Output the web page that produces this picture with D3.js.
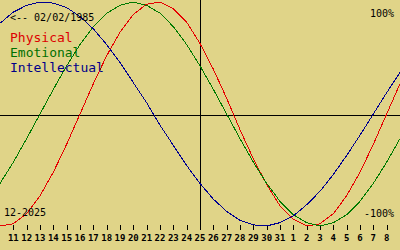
<!DOCTYPE html>
<html><head><meta charset="utf-8">
<script src="https://cdn.jsdelivr.net/npm/d3@7"></script>
<style>
html,body{margin:0;padding:0;background:#e0d488;}
svg{display:block;}
text{font-family:"DejaVu Sans Mono",monospace;}
</style></head>
<body>
<svg id="c" width="400" height="250"></svg>
<script>
// Days shown: Dec 10, 2025 .. Jan 9, 2026
const dayLabels = ["10","11","12","13","14","15","16","17","18","19","20","21","22","23","24","25","26","27","28","29","30","31","1","2","3","4","5","6","7","8","9"];
const physical = [-100,-98,-89,-73,-52,-27,0,27,52,73,89,98,100,94,82,63,40,14,-14,-40,-63,-82,-94,-100,-98,-89,-73,-52,-27,0,27];
const emotional = [-62,-43,-22,0,22,43,62,78,90,97,100,97,90,78,62,43,22,0,-22,-43,-62,-78,-90,-97,-100,-97,-90,-78,-62,-43,-22];
const intellectual = [81,91,97,100,99,95,87,76,62,46,28,10,-10,-28,-46,-62,-76,-87,-95,-99,-100,-97,-91,-81,-69,-54,-37,-19,0,19,37];
const todayIndex = 15;
const birthLabel = "<-- 02/02/1985";
const monthLabel = "12-2025";
const seriesNames = ["Physical","Emotional","Intellectual"];
const seriesColors = ["#e60000","#007a00","#000090"];
const textColors = ["#dd0000","#007000","#000088"];

const svg = d3.select("#c");
const W = 400;
const x = d3.scaleLinear().domain([0, dayLabels.length - 1]).range([0, W]);
const y = d3.scaleLinear().domain([-100, 100]).range([226, 2]);

// zero line
svg.append("line").attr("x1",0).attr("x2",W)
  .attr("y1",Math.round(y(0))+1.5).attr("y2",Math.round(y(0))+1.5)
  .attr("stroke","#000").attr("stroke-width",1).attr("shape-rendering","crispEdges");
// today line
svg.append("line").attr("x1",x(todayIndex)+0.5).attr("x2",x(todayIndex)+0.5)
  .attr("y1",0).attr("y2",230)
  .attr("stroke","#000").attr("stroke-width",1).attr("shape-rendering","crispEdges");

// ticks
const tickIdx = d3.range(1, dayLabels.length - 1);
svg.selectAll(".tk").data(tickIdx).enter().append("line")
  .attr("x1",d=>Math.round(x(d))+0.5).attr("x2",d=>Math.round(x(d))+0.5)
  .attr("y1",225).attr("y2",230)
  .attr("stroke","#000").attr("shape-rendering","crispEdges");
svg.selectAll(".tl").data(tickIdx).enter().append("text")
  .attr("x",d=>x(d)).attr("y",241)
  .attr("text-anchor","middle")
  .attr("font-size","9px").attr("font-weight","bold")
  .attr("fill","#000")
  .text(d=>dayLabels[d]);

// curves
const line = d3.line().x((d,i)=>x(i)).y(d=>y(d));
[physical, emotional, intellectual].forEach((s,k)=>{
  svg.append("path").datum(s).attr("d",line)
    .attr("fill","none").attr("stroke",seriesColors[k]).attr("stroke-width",1)
    .attr("shape-rendering","crispEdges");
});

// texts
svg.append("text").attr("x",10).attr("y",20.5).attr("font-size","10px").attr("fill","#000").text(birthLabel);
seriesNames.forEach((n,k)=>{
  svg.append("text").attr("x",10).attr("y",42+15*k).attr("font-size","13px")
    .attr("fill",textColors[k]).text(n);
});
svg.append("text").attr("x",394).attr("y",16.5).attr("font-size","10px").attr("text-anchor","end").attr("fill","#000").text("100%");
svg.append("text").attr("x",394).attr("y",216.5).attr("font-size","10px").attr("text-anchor","end").attr("fill","#000").text("-100%");
svg.append("text").attr("x",4).attr("y",216).attr("font-size","10px").attr("fill","#000").text(monthLabel);
</script>
</body></html>
